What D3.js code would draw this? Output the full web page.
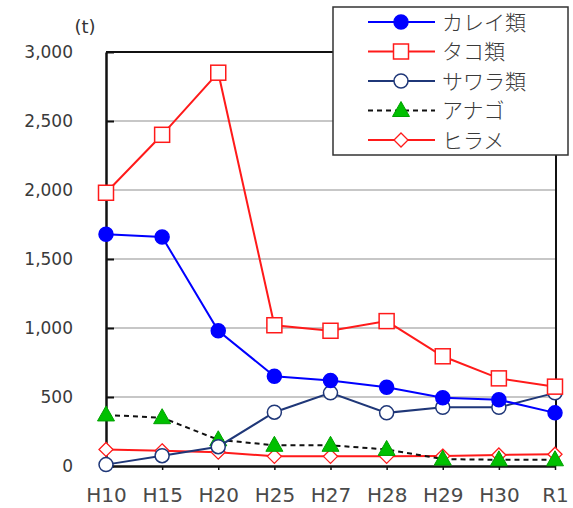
<!DOCTYPE html>
<html>
<head>
<meta charset="utf-8">
<script src="https://cdn.jsdelivr.net/npm/d3@7"></script>
<style>
  html, body { margin: 0; padding: 0; background: #fff; }
  svg { display: block; }
  text { font-family: "DejaVu Sans", "Noto Sans CJK JP", sans-serif; }
</style>
</head>
<body>
<svg id="chart" width="573" height="508"></svg>
<script>
// Catch by species (t), by fiscal year
const categories = ["H10", "H15", "H20", "H25", "H27", "H28", "H29", "H30", "R1"];
const karei  = [1680, 1660, 980, 650, 620, 570, 495, 480, 385];
const tako   = [1980, 2400, 2850, 1020, 980, 1050, 795, 635, 575];
const sawara = [10, 75, 140, 390, 530, 385, 425, 425, 530];
const anago  = [370, 350, 190, 150, 150, 120, 50, 45, 45];
const hirame = [120, 110, 100, 70, 70, 70, 72, 80, 85];
const yTicks = [0, 500, 1000, 1500, 2000, 2500, 3000];
const seriesNames = ["カレイ類", "タコ類", "サワラ類", "アナゴ", "ヒラメ"];

const series = [
  { name: seriesNames[0], values: karei,  color: "#0000ff", marker: "circle",   fill: "#0000ff", dash: null },
  { name: seriesNames[1], values: tako,   color: "#ff1a1a", marker: "square",   fill: "#ffffff", dash: null },
  { name: seriesNames[2], values: sawara, color: "#1f3778", marker: "circle",   fill: "#ffffff", dash: null },
  { name: seriesNames[3], values: anago,  color: "#111111", marker: "triangle", fill: "#00c000", dash: "5,4", mstroke: "#00a000" },
  { name: seriesNames[4], values: hirame, color: "#ff1a1a", marker: "diamond",  fill: "#ffffff", dash: null }
];

const svg = d3.select("#chart");
const plotLeft = 106, plotRight = 555, plotTop = 52, plotBottom = 466;

const x = d3.scalePoint().domain(categories).range([plotLeft, plotRight]).padding(0);
const y = d3.scaleLinear().domain([0, 3000]).range([plotBottom, plotTop]);

// horizontal gridlines
svg.append("g").selectAll("line")
  .data(yTicks.filter(t => t > 0 && t < 3000))
  .join("line")
  .attr("x1", plotLeft).attr("x2", plotRight)
  .attr("y1", d => y(d)).attr("y2", d => y(d))
  .attr("stroke", "#b4b4b4").attr("stroke-width", 1.5);

// frame: top and right
svg.append("line").attr("x1", plotLeft).attr("x2", plotRight + 1).attr("y1", plotTop).attr("y2", plotTop)
  .attr("stroke", "#111").attr("stroke-width", 2);
svg.append("line").attr("x1", plotRight + 1).attr("x2", plotRight + 1).attr("y1", plotTop).attr("y2", plotBottom)
  .attr("stroke", "#111").attr("stroke-width", 2);

// y axis
const yAxis = svg.append("g").attr("transform", `translate(${plotLeft},0)`)
  .call(d3.axisLeft(y).tickValues(yTicks).tickSizeInner(-8).tickSizeOuter(0)
    .tickPadding(33).tickFormat(d3.format(",")));
yAxis.select(".domain").attr("stroke", "#111").attr("stroke-width", 2.5);
yAxis.selectAll(".tick line").attr("stroke", "#111").attr("stroke-width", 2);
yAxis.selectAll(".tick text").attr("font-size", 17).attr("fill", "#3a3a3a")
  .attr("font-family", "'Liberation Sans', 'DejaVu Sans', sans-serif");

// x axis
const xAxis = svg.append("g").attr("transform", `translate(0,${plotBottom})`)
  .call(d3.axisBottom(x).tickSizeInner(4).tickSizeOuter(0).tickPadding(18));
xAxis.select(".domain").attr("stroke", "#111").attr("stroke-width", 2.5);
xAxis.selectAll(".tick line").attr("stroke", "#111").attr("stroke-width", 1.5);
xAxis.selectAll(".tick text").attr("font-size", 20).attr("fill", "#4a4a4a")
  .attr("font-family", "'Liberation Sans', 'DejaVu Sans', sans-serif");

// unit label
svg.append("text").attr("x", 85).attr("y", 33).attr("text-anchor", "middle")
  .attr("font-size", 18).attr("fill", "#333")
  .attr("font-family", "'Liberation Sans', sans-serif").text("(t)");

function drawMarker(g, type, cx, cy, s) {
  if (type === "circle") {
    g.append("circle").attr("cx", cx).attr("cy", cy).attr("r", 7)
      .attr("fill", s.fill).attr("stroke", s.color).attr("stroke-width", 1.5);
  } else if (type === "square") {
    g.append("rect").attr("x", cx - 7.5).attr("y", cy - 7.5).attr("width", 15).attr("height", 15)
      .attr("fill", s.fill).attr("stroke", s.color).attr("stroke-width", 1.5);
  } else if (type === "triangle") {
    g.append("path").attr("d", `M${cx},${cy - 9}L${cx + 8.5},${cy + 6}L${cx - 8.5},${cy + 6}Z`)
      .attr("fill", s.fill).attr("stroke", s.mstroke).attr("stroke-width", 1);
  } else if (type === "diamond") {
    g.append("path").attr("d", `M${cx},${cy - 7}L${cx + 7},${cy}L${cx},${cy + 7}L${cx - 7},${cy}Z`)
      .attr("fill", s.fill).attr("stroke", s.color).attr("stroke-width", 1.3);
  }
}

const line = d3.line().x((d, i) => x(categories[i])).y(d => y(d));

// draw series: bottom-most first
const drawOrder = [4, 3, 2, 0, 1];
drawOrder.forEach(k => {
  const s = series[k];
  const g = svg.append("g");
  g.append("path").datum(s.values).attr("d", line)
    .attr("fill", "none").attr("stroke", s.color).attr("stroke-width", 2)
    .attr("stroke-dasharray", s.dash);
  s.values.forEach((v, i) => drawMarker(g, s.marker, x(categories[i]), y(v), s));
});

// legend
const lg = svg.append("g");
lg.append("rect").attr("x", 333).attr("y", 7).attr("width", 235).attr("height", 148)
  .attr("fill", "#fff").attr("stroke", "#333").attr("stroke-width", 1.5);
series.forEach((s, i) => {
  const ly = 22 + i * 29.5;
  const row = lg.append("g");
  row.append("line").attr("x1", 368).attr("x2", 435).attr("y1", ly).attr("y2", ly)
    .attr("stroke", s.color).attr("stroke-width", 2).attr("stroke-dasharray", s.dash);
  drawMarker(row, s.marker, 401, ly, s);
  row.append("text").attr("x", 442).attr("y", ly).attr("dy", "0.36em")
    .attr("font-size", 21).attr("fill", "#3a3a3a").attr("font-weight", 300)
    .attr("font-family", "'Noto Sans CJK JP', sans-serif").text(s.name);
});
</script>
</body>
</html>
